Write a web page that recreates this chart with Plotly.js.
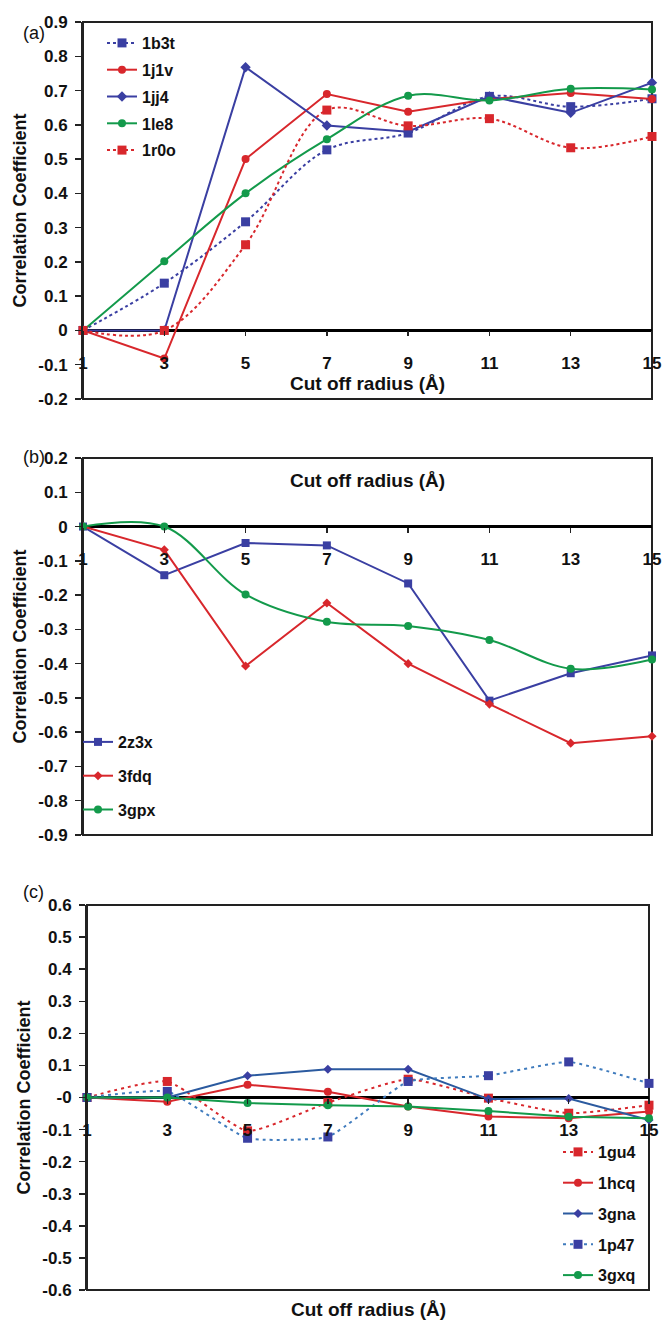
<!DOCTYPE html>
<html>
<head>
<meta charset="utf-8">
<script src="https://cdn.plot.ly/plotly-3.0.1.min.js"></script>
<style>
html,body{margin:0;padding:0;background:#fff;}
#chart{width:663px;height:1334px;}
</style>
</head>
<body>
<div id="chart"></div>
<script>
// ---- data ----
const cutoffRadius = [1, 3, 5, 7, 9, 11, 13, 15];
const xTickText = ['1', '3', '5', '7', '9', '11', '13', '15'];

// panel (a)
const a_1b3t = [0, 0.138, 0.317, 0.527, 0.576, 0.683, 0.653, 0.676];
const a_1j1v = [0, -0.082, 0.50, 0.69, 0.638, 0.675, 0.693, 0.675];
const a_1jj4 = [0, 0, 0.768, 0.598, 0.580, 0.683, 0.635, 0.723];
const a_1le8 = [0, 0.202, 0.40, 0.558, 0.685, 0.671, 0.705, 0.703];
const a_1r0o = [0, 0, 0.25, 0.643, 0.597, 0.618, 0.533, 0.566];

// panel (b)
const b_2z3x = [0, -0.142, -0.048, -0.055, -0.166, -0.508, -0.428, -0.376];
const b_3fdq = [0, -0.068, -0.407, -0.223, -0.400, -0.518, -0.632, -0.612];
const b_3gpx = [0, 0, -0.198, -0.278, -0.290, -0.331, -0.415, -0.388];

// panel (c)
const c_1gu4 = [0, 0.050, -0.104, -0.016, 0.057, -0.002, -0.049, -0.024];
const c_1hcq = [0, -0.013, 0.040, 0.018, -0.028, -0.059, -0.065, -0.044];
const c_3gna = [0, 0, 0.068, 0.088, 0.088, -0.005, -0.003, -0.070];
const c_1p47 = [0, 0.019, -0.127, -0.123, 0.050, 0.068, 0.111, 0.044];
const c_3gxq = [0, 0, -0.017, -0.024, -0.028, -0.042, -0.060, -0.065];

// y tick labels
const yTickValsA = [-0.2, -0.1, 0, 0.1, 0.2, 0.3, 0.4, 0.5, 0.6, 0.7, 0.8, 0.9];
const yTickTextA = ['-0.2', '-0.1', '0', '0.1', '0.2', '0.3', '0.4', '0.5', '0.6', '0.7', '0.8', '0.9'];
const yTickValsB = [-0.9, -0.8, -0.7, -0.6, -0.5, -0.4, -0.3, -0.2, -0.1, 0, 0.1, 0.2];
const yTickTextB = ['-0.9', '-0.8', '-0.7', '-0.6', '-0.5', '-0.4', '-0.3', '-0.2', '-0.1', '0', '0.1', '0.2'];
const yTickValsC = [-0.6, -0.5, -0.4, -0.3, -0.2, -0.1, 0, 0.1, 0.2, 0.3, 0.4, 0.5, 0.6];
const yTickTextC = ['-0.6', '-0.5', '-0.4', '-0.3', '-0.2', '-0.1', '-0', '0.1', '0.2', '0.3', '0.4', '0.5', '0.6'];

const xTitle = 'Cut off radius (Å)';
const yTitle = 'Correlation Coefficient';

// ---- style ----
const BLUE = '#3a3fa2', RED = '#d8272c', GREEN = '#139a4b', BLUE2 = '#2b5a9f', BLUE3 = '#3f7bbd';
const FONT = 'Liberation Sans, Arial, sans-serif';
const boldFont = (s) => ({family: FONT, size: s, color: '#111', weight: 700});

function tr(y, name, color, symbol, opts) {
  opts = opts || {};
  return {
    x: cutoffRadius, y: y, name: name, type: 'scatter', mode: 'lines+markers',
    xaxis: opts.xa, yaxis: opts.ya, legend: opts.legend, legendgroup: name,
    cliponaxis: false,
    line: {color: opts.lineColor || color, width: 2, dash: opts.dash || 'solid',
      shape: opts.spline ? 'spline' : 'linear', smoothing: opts.smooth || 1},
    marker: {color: color, symbol: symbol, size: opts.size || 8}
  };
}

const A = {xa: 'x', ya: 'y', legend: 'legend'};
const B = {xa: 'x2', ya: 'y2', legend: 'legend2'};
const C = {xa: 'x3', ya: 'y3', legend: 'legend3'};
const ext = (o, p) => Object.assign({}, o, p);

const traces = [
  tr(a_1b3t, '1b3t', BLUE, 'square', ext(A, {dash: '3px,3px', spline: true, size: 9})),
  tr(a_1j1v, '1j1v', RED, 'circle', A),
  tr(a_1jj4, '1jj4', BLUE, 'diamond', A),
  tr(a_1le8, '1le8', GREEN, 'circle', ext(A, {spline: true})),
  tr(a_1r0o, '1r0o', RED, 'square', ext(A, {dash: '3px,3px', spline: true, size: 9})),

  tr(b_2z3x, '2z3x', BLUE, 'square', B),
  tr(b_3fdq, '3fdq', RED, 'diamond', ext(B, {size: 7})),
  tr(b_3gpx, '3gpx', GREEN, 'circle', ext(B, {spline: true})),

  tr(c_1gu4, '1gu4', RED, 'square', ext(C, {dash: '3px,4px', spline: true, smooth: 0.5, size: 9})),
  tr(c_1hcq, '1hcq', RED, 'circle', C),
  tr(c_3gna, '3gna', BLUE, 'diamond', ext(C, {lineColor: BLUE2, size: 7})),
  tr(c_1p47, '1p47', BLUE, 'square', ext(C, {lineColor: BLUE3, dash: '3px,4px', spline: true, smooth: 0.4, size: 9})),
  tr(c_3gxq, '3gxq', GREEN, 'circle', C)
];

// ---- layout ----
const H = 1334, W = 663;
const domX_ab = [83 / W, 652 / W];
const domX_c = [87 / W, 649 / W];
const domY = (top, bottom) => [1 - bottom / H, 1 - top / H];
const dyA = domY(22, 399), dyB = domY(458, 835), dyC = domY(905, 1290);
const rA = [-0.2, 0.9], rB = [-0.9, 0.2], rC = [-0.6, 0.6];
const zeroPos = (d, r) => d[0] + (0 - r[0]) / (r[1] - r[0]) * (d[1] - d[0]);

function xax(dom, pos) {
  return {
    domain: dom, range: [1, 15], anchor: 'free', position: pos,
    showline: false, showgrid: false, zeroline: false,
    ticks: 'outside', ticklen: 5, tickwidth: 1.5, tickcolor: '#222',
    tickvals: cutoffRadius, ticktext: xTickText, tickfont: boldFont(17),
    ticklabelstandoff: 12, fixedrange: true
  };
}
function yax(dom, r, vals, text, anchor) {
  return {
    domain: dom, range: r, anchor: anchor,
    showline: true, linecolor: '#222', linewidth: 2, showgrid: false,
    zeroline: true, zerolinecolor: '#000', zerolinewidth: 3,
    ticks: 'outside', ticklen: 6, tickwidth: 1.5, tickcolor: '#222',
    tickvals: vals, ticktext: text, tickfont: boldFont(17), ticklabelstandoff: 4,
    title: {text: yTitle, font: boldFont(18), standoff: 7}, fixedrange: true
  };
}
function frame(xr, yr) {
  return {type: 'rect', xref: xr + ' domain', yref: yr + ' domain', x0: 0, x1: 1, y0: 0, y1: 1,
    line: {color: '#222', width: 2}, layer: 'below'};
}
function legend(x, y, gap) {
  return {x: x, y: y, xanchor: 'left', yanchor: 'top', bgcolor: 'rgba(0,0,0,0)',
    font: boldFont(16), tracegroupgap: gap, itemwidth: 30, traceorder: 'grouped'};
}

const layout = {
  width: W, height: H,
  margin: {l: 0, r: 0, t: 0, b: 0},
  paper_bgcolor: '#fff', plot_bgcolor: '#fff',
  font: {family: FONT, color: '#111'},
  xaxis: xax(domX_ab, zeroPos(dyA, rA)),
  yaxis: yax(dyA, rA, yTickValsA, yTickTextA, 'x'),
  xaxis2: xax(domX_ab, zeroPos(dyB, rB)),
  yaxis2: yax(dyB, rB, yTickValsB, yTickTextB, 'x2'),
  xaxis3: xax(domX_c, zeroPos(dyC, rC)),
  yaxis3: yax(dyC, rC, yTickValsC, yTickTextC, 'x3'),
  shapes: [frame('x', 'y'), frame('x2', 'y2'), frame('x3', 'y3')],
  showlegend: true,
  legend: legend(102 / W, 1 - 26 / H, 3),
  legend2: legend(78 / W, 1 - 725 / H, 10),
  legend3: legend(558 / W, 1 - 1135 / H, 7),
  annotations: [
    {text: xTitle, xref: 'x domain', yref: 'y', x: 0.5, y: -0.155, showarrow: false, font: boldFont(19)},
    {text: xTitle, xref: 'x2 domain', yref: 'y2', x: 0.5, y: 0.135, showarrow: false, font: boldFont(19)},
    {text: xTitle, xref: 'x3 domain', yref: 'paper', x: 0.5, y: 1 - 1322 / H, showarrow: false, font: boldFont(19)},
    {text: '(a)', xref: 'paper', yref: 'paper', x: 21 / W, y: 1 - 21 / H, showarrow: false, font: {family: FONT, size: 18, color: '#111'}},
    {text: '(b)', xref: 'paper', yref: 'paper', x: 21 / W, y: 1 - 457 / H, showarrow: false, font: {family: FONT, size: 18, color: '#111'}},
    {text: '(c)', xref: 'paper', yref: 'paper', x: 21 / W, y: 1 - 904 / H, showarrow: false, font: {family: FONT, size: 18, color: '#111'}}
  ]
};

Plotly.newPlot('chart', traces, layout, {displayModeBar: false, staticPlot: true});
</script>
</body>
</html>
